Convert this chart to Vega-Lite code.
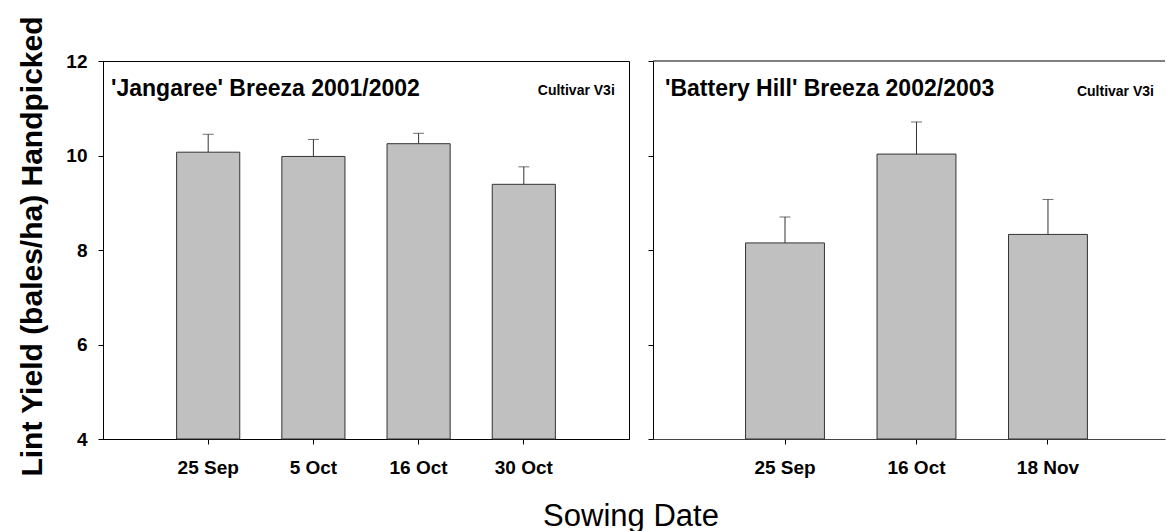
{
  "$schema": "https://vega.github.io/schema/vega-lite/v6.json",
  "background": "white",
  "padding": {"left": 16, "top": 15, "right": 0, "bottom": 0},
  "autosize": {"type": "pad"},
  "config": {
    "font": "Liberation Sans",
    "axis": {"grid": false, "domainColor": "#000", "tickColor": "#000", "labelColor": "#000", "labelFont": "Liberation Sans", "labelFontWeight": "bold", "labelFontSize": 19, "tickSize": 5, "titleColor": "#000", "titleFont": "Liberation Sans"},
    "title": {"font": "Liberation Sans", "color": "#000"}
  },
  "title": {"text": "Sowing Date", "orient": "bottom", "anchor": "middle", "fontSize": 31, "fontWeight": "normal", "baseline": "alphabetic", "offset": 48, "dx": 40},
  "spacing": 24,
  "bounds": "flush",
  "hconcat": [
    {
      "width": 526,
      "height": 378,
      "view": {"stroke": "#000", "strokeWidth": 1},
      "title": {"text": "'Jangaree' Breeza 2001/2002", "anchor": "start", "frame": "group", "orient": "top", "fontSize": 23, "fontWeight": "bold", "baseline": "alphabetic", "offset": -103, "dx": 8},
      "data": {"values": [
        {"date": "25 Sep", "yield": 10.07, "upper": 10.45},
        {"date": "5 Oct", "yield": 9.98, "upper": 10.34},
        {"date": "16 Oct", "yield": 10.25, "upper": 10.47},
        {"date": "30 Oct", "yield": 9.39, "upper": 9.76}
      ]},
      "layer": [
        {
          "mark": {"type": "bar", "fill": "#c0c0c0", "stroke": "#333", "strokeWidth": 1},
          "encoding": {
            "x": {"field": "date", "type": "nominal", "sort": null,
              "scale": {"paddingInner": 0.4, "paddingOuter": 0.7},
              "axis": {"title": null, "labelAngle": 0, "labelPadding": 14, "bandPosition": 0.5, "domainColor": "#000"}},
            "y": {"field": "yield", "type": "quantitative",
              "scale": {"domain": [4, 12], "nice": false, "zero": false},
              "axis": {"values": [4, 6, 8, 10, 12], "title": "Lint Yield (bales/ha) Handpicked", "titleFontSize": 30, "titleFontWeight": "bold", "titleX": -62, "titleY": 185, "titleAngle": 270, "titleAlign": "center", "titleBaseline": "alphabetic", "labelPadding": 11}},
            "y2": {"datum": 4}
          }
        },
        {
          "mark": {"type": "rule", "color": "#333", "strokeWidth": 1},
          "encoding": {"x": {"field": "date", "type": "nominal", "sort": null}, "y": {"field": "yield", "type": "quantitative"}, "y2": {"field": "upper"}}
        },
        {
          "mark": {"type": "tick", "color": "#333", "size": 11, "thickness": 1, "orient": "horizontal"},
          "encoding": {"x": {"field": "date", "type": "nominal", "sort": null}, "y": {"field": "upper", "type": "quantitative"}}
        },
        {
          "data": {"values": [{"note": "Cultivar V3i"}]},
          "mark": {"type": "text", "align": "right", "baseline": "alphabetic", "dx": 91, "fontSize": 14, "fontWeight": "bold", "color": "#000"},
          "encoding": {"x": {"datum": "30 Oct"}, "y": {"datum": 11.28}, "text": {"field": "note"}}
        }
      ]
    },
    {
      "width": 512,
      "height": 378,
      "view": {"stroke": null},
      "title": {"text": "'Battery Hill' Breeza 2002/2003", "anchor": "start", "frame": "group", "orient": "top", "fontSize": 23, "fontWeight": "bold", "baseline": "alphabetic", "offset": -58, "dx": 12},
      "data": {"values": [
        {"date": "25 Sep", "yield": 8.15, "upper": 8.70},
        {"date": "16 Oct", "yield": 10.03, "upper": 10.71},
        {"date": "18 Nov", "yield": 8.33, "upper": 9.07}
      ]},
      "layer": [
        {
          "mark": {"type": "bar", "fill": "#c0c0c0", "stroke": "#333", "strokeWidth": 1},
          "encoding": {
            "x": {"field": "date", "type": "nominal", "sort": null,
              "scale": {"paddingInner": 0.4, "paddingOuter": 0.647, "align": 0.544},
              "axis": {"title": null, "labelAngle": 0, "labelPadding": 14, "bandPosition": 0.5, "domainColor": "#444"}},
            "y": {"field": "yield", "type": "quantitative",
              "scale": {"domain": [4, 12], "nice": false, "zero": false},
              "axis": {"values": [4, 6, 8, 10, 12], "title": null, "labels": false}},
            "y2": {"datum": 4}
          }
        },
        {
          "mark": {"type": "rule", "color": "#333", "strokeWidth": 1},
          "encoding": {"x": {"field": "date", "type": "nominal", "sort": null}, "y": {"field": "yield", "type": "quantitative"}, "y2": {"field": "upper"}}
        },
        {
          "mark": {"type": "tick", "color": "#333", "size": 11, "thickness": 1, "orient": "horizontal"},
          "encoding": {"x": {"field": "date", "type": "nominal", "sort": null}, "y": {"field": "upper", "type": "quantitative"}}
        },
        {
          "data": {"values": [{"edge": "top"}]},
          "mark": {"type": "rule", "color": "#000", "strokeWidth": 1},
          "encoding": {"y": {"datum": 12}}
        },
        {
          "data": {"values": [{"note": "Cultivar V3i"}]},
          "mark": {"type": "text", "align": "right", "baseline": "alphabetic", "dx": 106, "fontSize": 14, "fontWeight": "bold", "color": "#000"},
          "encoding": {"x": {"datum": "18 Nov"}, "y": {"datum": 11.26}, "text": {"field": "note"}}
        }
      ]
    }
  ]
}
